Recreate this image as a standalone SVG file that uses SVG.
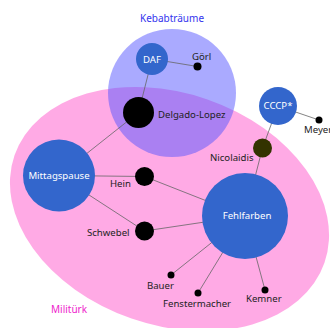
<svg xmlns="http://www.w3.org/2000/svg" width="330" height="328" viewBox="0 0 330 328">
<style>
text{font-family:"Noto Sans","Open Sans",sans-serif;font-size:9.6px;fill:#222}
.in{fill:#fff;text-anchor:middle}
.blue{fill:#3366cc}
.dot{fill:#000}
.edge{stroke:#666;stroke-width:0.8}
</style>
<rect width="330" height="328" fill="#fff"/>
<g id="group-militurk">
<ellipse cx="169.5" cy="209" rx="164" ry="116" transform="rotate(19.1 169.5 209)" fill="#ff55cc" fill-opacity="0.5"/>
<text x="51" y="313" style="fill:#ee22cc;font-size:10px">Militürk</text>
</g>
<g id="group-kebab">
<circle cx="172" cy="93" r="64" fill="#5555ff" fill-opacity="0.5"/>
<text x="172" y="22" style="fill:#3333ee;font-size:10px;text-anchor:middle">Kebabträume</text>
</g>
<g id="edges" class="edge">
<line x1="152" y1="59" x2="197.5" y2="66.5"/>
<line x1="152" y1="59" x2="138.5" y2="112.5"/>
<line x1="138.5" y1="112.5" x2="59" y2="175.5"/>
<line x1="59" y1="175.5" x2="144.5" y2="176.5"/>
<line x1="59" y1="175.5" x2="144.5" y2="231"/>
<line x1="144.5" y1="176.5" x2="245" y2="216"/>
<line x1="144.5" y1="231" x2="245" y2="216"/>
<line x1="245" y1="216" x2="262.5" y2="148"/>
<line x1="262.5" y1="148" x2="278" y2="106"/>
<line x1="278" y1="106" x2="319" y2="120"/>
<line x1="245" y1="216" x2="171" y2="275"/>
<line x1="245" y1="216" x2="198" y2="293"/>
<line x1="245" y1="216" x2="265" y2="290"/>
</g>
<g id="DAF"><circle class="blue" cx="152" cy="59" r="16"/><text class="in" x="152" y="62.5">DAF</text></g>
<g id="Goerl"><circle class="dot" cx="197.5" cy="66.5" r="4"/><text x="192" y="60">Görl</text></g>
<g id="Delgado-Lopez"><circle class="dot" cx="138.5" cy="112.5" r="15.5"/><text x="158" y="118">Delgado-Lopez</text></g>
<g id="Mittagspause"><circle class="blue" cx="59" cy="175.5" r="36"/><text class="in" x="59" y="179">Mittagspause</text></g>
<g id="Hein"><circle class="dot" cx="144.5" cy="176.5" r="9.5"/><text x="110" y="187">Hein</text></g>
<g id="Schwebel"><circle class="dot" cx="144.5" cy="231" r="9.5"/><text x="87" y="236">Schwebel</text></g>
<g id="CCCP"><circle class="blue" cx="278" cy="106" r="19"/><text class="in" x="278" y="109">CCCP*</text></g>
<g id="Meyer"><circle class="dot" cx="319" cy="120" r="3.5"/><text x="304" y="133">Meyer</text></g>
<g id="Nicolaidis"><circle cx="262.5" cy="148" r="9.5" fill="#333300"/><text x="210" y="161">Nicolaidis</text></g>
<g id="Fehlfarben"><circle class="blue" cx="245" cy="216" r="43"/><text class="in" x="247" y="219">Fehlfarben</text></g>
<g id="Bauer"><circle class="dot" cx="171" cy="275" r="3.5"/><text x="147" y="289">Bauer</text></g>
<g id="Fenstermacher"><circle class="dot" cx="198" cy="293" r="3.5"/><text x="163" y="307">Fenstermacher</text></g>
<g id="Kemner"><circle class="dot" cx="265" cy="290" r="3.5"/><text x="246" y="302">Kemner</text></g>
</svg>
